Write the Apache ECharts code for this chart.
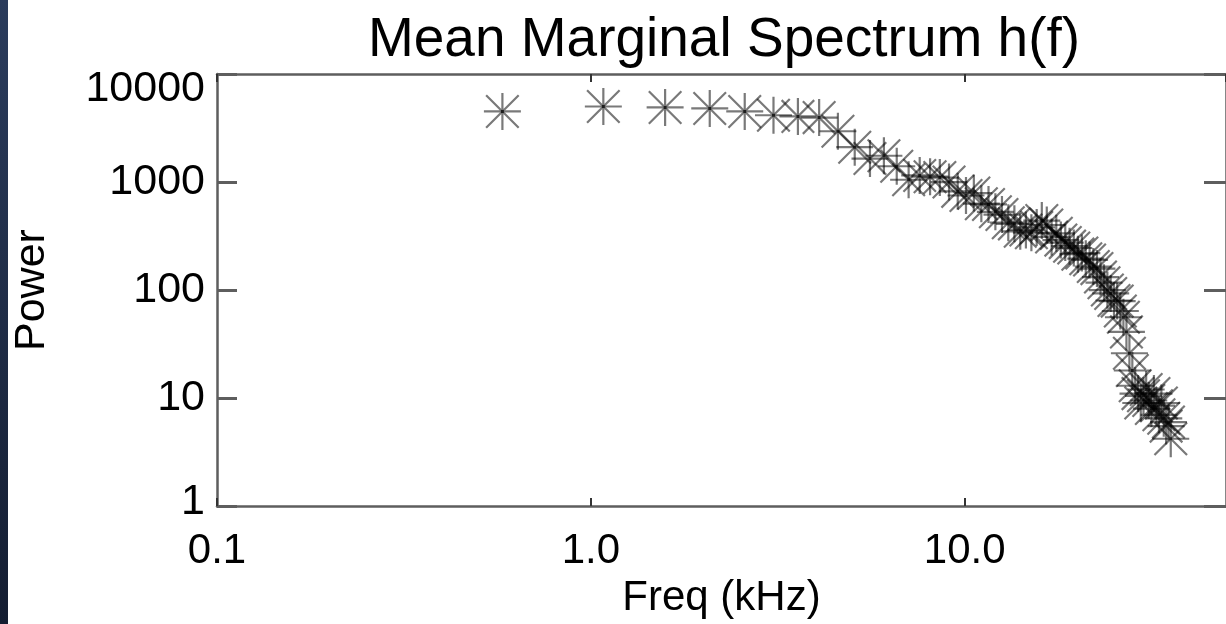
<!DOCTYPE html>
<html>
<head>
<meta charset="utf-8">
<script src="https://cdn.jsdelivr.net/npm/echarts@6/dist/echarts.min.js"></script>
<style>
html,body{margin:0;padding:0;background:#fff;}
#chart{width:1226px;height:624px;}
</style>
</head>
<body>
<div id="chart"></div>
<script>
// Frequencies (kHz)
const freqKHz = [
  0.58, 1.08, 1.58, 2.08, 2.58, 3.08, 3.58, 4.08, 4.58, 5.08,
  5.58, 6.08, 6.58, 7.08, 7.58, 8.08, 8.58, 9.08, 9.58, 10.08,
  10.58, 11.08, 11.58, 12.08, 12.58, 13.08, 13.58, 14.08, 14.58, 15.08,
  15.58, 16.08, 16.58, 17.08, 17.58, 18.08, 18.58, 19.08, 19.58, 20.08,
  20.58, 21.08, 21.58, 22.08, 22.58, 23.08, 23.58, 24.08, 24.58, 25.08,
  25.58, 26.08, 26.58, 27.08, 27.58, 28.08, 28.58, 29.08, 29.58, 30.08,
  30.58, 31.08, 31.58, 32.08, 32.58, 33.08, 33.58, 34.08, 34.58, 35.08,
  35.58
];
// Mean marginal power
const power = [
  4500, 5000, 4900, 4800, 4500, 4150, 4050, 3950, 2950, 2100,
  1650, 1750, 1400, 1050, 1150, 1120, 1100, 1000, 820, 750,
  790, 630, 620, 530, 500, 420, 410, 350, 360, 340,
  380, 440, 400, 310, 335, 290, 275, 255, 245, 215,
  220, 195, 190, 165, 158, 132, 117, 100, 93, 80,
  79, 64, 56, 41, 26, 18, 13, 11, 9, 10.5,
  12, 9.5, 8, 11, 8.5, 7, 9, 6.5, 5.5, 6,
  4.2
];
const xTickValues = [0.1, 1, 10];
const xTickLabels = ['0.1', '1.0', '10.0'];
const yTickValues = [1, 10, 100, 1000, 10000];
const yTickLabels = ['1', '10', '100', '1000', '10000'];

const FONT = "'Liberation Sans', Arial, Helvetica, sans-serif";
const AXIS_GRAY = '#5e5e5e';
const ASTERISK = 'path://M-1,0L1,0M0,-1L0,1M-0.88,-0.88L0.88,0.88M-0.88,0.88L0.88,-0.88M-0.08,-0.08L0.08,-0.08L0.08,0.08L-0.08,0.08Z';

function findLabel(vals, labels, v) {
  for (let i = 0; i < vals.length; i++) {
    if (Math.abs(Math.log10(v) - Math.log10(vals[i])) < 1e-6) return labels[i];
  }
  return '';
}

const chart = echarts.init(document.getElementById('chart'), null, {renderer: 'canvas'});
const option = {
  animation: false,
  backgroundColor: '#ffffff',
  title: {
    text: 'Mean Marginal Spectrum h(f)',
    left: 724,
    top: 13,
    padding: 0,
    textAlign: 'center',
    textStyle: {fontFamily: FONT, fontSize: 55, fontWeight: 'normal', color: '#000'}
  },
  graphic: [{
    type: 'rect',
    left: 0, top: 0,
    shape: {width: 8, height: 624},
    style: {
      fill: new echarts.graphic.LinearGradient(0, 0, 0, 1, [
        {offset: 0, color: '#2b3c5c'},
        {offset: 1, color: '#141d31'}
      ])
    },
    silent: true
  }],
  grid: {left: 217, top: 74, width: 1014, height: 437},
  xAxis: [{
    type: 'log', logBase: 10, min: 0.1, max: 50, position: 'bottom',
    axisLine: {show: true, lineStyle: {color: AXIS_GRAY, width: 2.5}},
    axisTick: {show: true, inside: true, length: 8, lineStyle: {color: '#333', width: 2}},
    splitLine: {show: false}, minorTick: {show: false},
    axisLabel: {
      show: true, margin: 24, fontFamily: FONT, fontSize: 42, color: '#000',
      showMaxLabel: false,
      formatter: v => findLabel(xTickValues, xTickLabels, v)
    },
    name: 'Freq (kHz)', nameLocation: 'middle', nameGap: 70,
    nameTextStyle: {fontFamily: FONT, fontSize: 42, color: '#000'}
  }, {
    type: 'log', logBase: 10, min: 0.1, max: 50, position: 'top',
    axisLine: {show: true, lineStyle: {color: AXIS_GRAY, width: 2.5}},
    axisTick: {show: true, inside: true, length: 8, lineStyle: {color: '#333', width: 2}},
    splitLine: {show: false}, axisLabel: {show: false}
  }],
  yAxis: [{
    type: 'log', logBase: 10, min: 1, max: 10000, position: 'left',
    axisLine: {show: true, lineStyle: {color: AXIS_GRAY, width: 2.5}},
    axisTick: {show: true, inside: true, length: 20, lineStyle: {color: AXIS_GRAY, width: 3}},
    splitLine: {show: false}, minorTick: {show: false},
    axisLabel: {
      show: true, margin: 12, fontFamily: FONT, fontSize: 43, color: '#000',
      formatter: v => {
        const s = findLabel(yTickValues, yTickLabels, v);
        if (s === '10000') return '{t|' + s + '}';
        if (s === '1') return '{b|' + s + '}';
        return s;
      },
      rich: {
        t: {fontFamily: FONT, fontSize: 43, color: '#000', padding: [30, 0, 0, 0]},
        b: {fontFamily: FONT, fontSize: 43, color: '#000', padding: [0, 0, 8, 0]}
      }
    },
    name: 'Power', nameLocation: 'middle', nameGap: 163, nameRotate: 90,
    nameTextStyle: {fontFamily: FONT, fontSize: 43, color: '#000'}
  }, {
    type: 'log', logBase: 10, min: 1, max: 10000, position: 'right',
    axisLine: {show: true, lineStyle: {color: AXIS_GRAY, width: 2.5}},
    axisTick: {show: true, inside: true, length: 22, lineStyle: {color: AXIS_GRAY, width: 3}},
    splitLine: {show: false}, axisLabel: {show: false}
  }],
  series: [{
    type: 'scatter',
    xAxisIndex: 0, yAxisIndex: 0,
    data: freqKHz.map((f, i) => [f, power[i]]),
    symbol: ASTERISK,
    symbolSize: 37,
    itemStyle: {color: 'rgba(0,0,0,0.95)', borderColor: 'rgba(0,0,0,0.66)', borderWidth: 2.2},
    emphasis: {disabled: true}
  }]
};
chart.setOption(option);
</script>
</body>
</html>
